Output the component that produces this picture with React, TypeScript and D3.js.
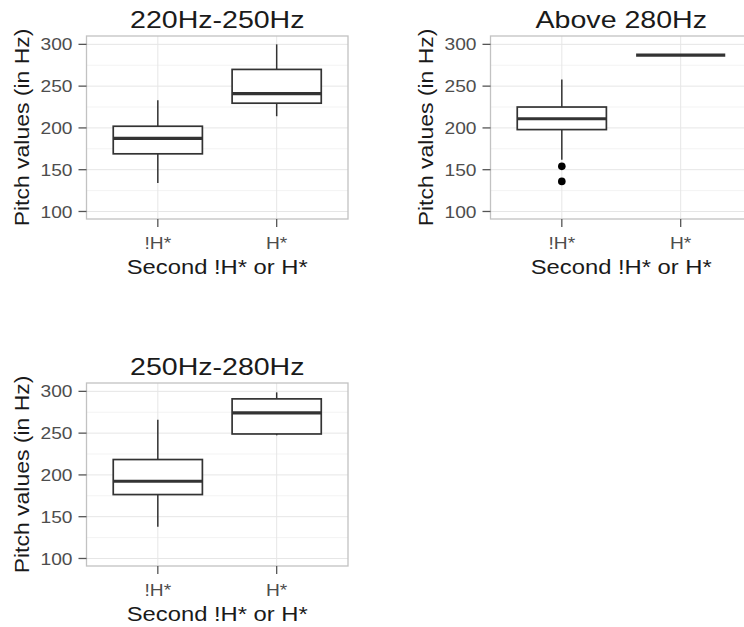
import React from 'react';
import * as d3 from 'd3';

const categories = ['!H*', 'H*'];
const panelTitles = ['220Hz-250Hz', 'Above 280Hz', '250Hz-280Hz'];
const yTicks = [100, 150, 200, 250, 300];
const yMinorTicks = [125, 175, 225, 275];
const xAxisTitle = 'Second !H* or H*';
const yAxisTitle = 'Pitch values (in Hz)';

// [lower whisker, q1, median, q3, upper whisker] per category
const boxes220to250 = [
  [134, 169, 187.6, 202, 233],
  [214, 229.6, 241, 270, 300],
];
const boxesAbove280 = [
  [162, 198, 211, 225, 258],
  [287, 287, 287, 287, 287],
];
const boxes250to280 = [
  [138, 176.5, 192.4, 218.4, 266],
  [247.4, 249, 274.2, 291, 298.8],
];
const outliers220to250: number[][] = [[], []];
const outliersAbove280: number[][] = [[154, 136], []];
const outliers250to280: number[][] = [[], []];

const W = 744;
const H = 627;
const PW = 261.5;
const PH = 183;
const FONT = 'Liberation Sans, Arial, Helvetica, sans-serif';

const panels = [
  { title: panelTitles[0], boxes: boxes220to250, outliers: outliers220to250, x0: 86.5, y0: 36 },
  { title: panelTitles[1], boxes: boxesAbove280, outliers: outliersAbove280, x0: 490.5, y0: 36 },
  { title: panelTitles[2], boxes: boxes250to280, outliers: outliers250to280, x0: 86.5, y0: 383 },
];

function SText(props: {
  x: number; y: number; size: number; sx: number; anchor: string;
  rotate?: number; fill: string; dy?: string; children: React.ReactNode;
}) {
  const { x, y, size, sx, anchor, rotate, fill, dy, children } = props;
  const t = `translate(${x},${y})${rotate ? ` rotate(${rotate})` : ''} scale(${sx},1)`;
  return (
    <text transform={t} fontSize={size} textAnchor={anchor as any} fill={fill} fontFamily={FONT} dy={dy}>
      {children}
    </text>
  );
}

function Panel({ p }: { p: typeof panels[number] }) {
  const x = d3.scalePoint<string>().domain(categories).range([p.x0, p.x0 + PW]).padding(0.6);
  const y = d3.scaleLinear().domain([91, 310]).range([p.y0 + PH, p.y0]);
  const step = x.step();
  const bw = step * 0.75;
  const x1 = p.x0 + PW;
  const y1 = p.y0 + PH;
  const cx = p.x0 + PW / 2;
  const cy = p.y0 + PH / 2;
  return (
    <g>
      <rect x={p.x0} y={p.y0} width={PW} height={PH} fill="#fff" />
      {yMinorTicks.map((t) => (
        <line key={'mn' + t} x1={p.x0} x2={x1} y1={y(t)} y2={y(t)} stroke="#F3F3F3" strokeWidth={1} />
      ))}
      {yTicks.map((t) => (
        <line key={'mj' + t} x1={p.x0} x2={x1} y1={y(t)} y2={y(t)} stroke="#E6E6E6" strokeWidth={1} />
      ))}
      {categories.map((c) => (
        <line key={'vg' + c} x1={x(c)!} x2={x(c)!} y1={p.y0} y2={y1} stroke="#E6E6E6" strokeWidth={1} />
      ))}
      {categories.map((c, i) => {
        const [lo, q1, med, q3, hi] = p.boxes[i];
        const xc = x(c)!;
        return (
          <g key={'b' + c}>
            <line x1={xc} x2={xc} y1={y(hi)} y2={y(q3)} stroke="#333" strokeWidth={1.5} />
            <line x1={xc} x2={xc} y1={y(q1)} y2={y(lo)} stroke="#333" strokeWidth={1.5} />
            <rect x={xc - bw / 2} y={y(q3)} width={bw} height={Math.max(0, y(q1) - y(q3))} fill="#fff" stroke="#333" strokeWidth={1.7} />
            <line x1={xc - bw / 2} x2={xc + bw / 2} y1={y(med)} y2={y(med)} stroke="#333" strokeWidth={3.2} />
            {p.outliers[i].map((o, j) => (
              <circle key={j} cx={xc} cy={y(o)} r={3.8} fill="#000" />
            ))}
          </g>
        );
      })}
      <rect x={p.x0} y={p.y0} width={PW} height={PH} fill="none" stroke="#C2C2C2" strokeWidth={1.3} />
      {yTicks.map((t) => (
        <g key={'yt' + t}>
          <line x1={p.x0 - 8} x2={p.x0} y1={y(t)} y2={y(t)} stroke="#555" strokeWidth={1.3} />
          <SText x={p.x0 - 14} y={y(t)} size={17} sx={1.13} anchor="end" fill="#4D4D4D" dy="0.36em">{t}</SText>
        </g>
      ))}
      {categories.map((c) => (
        <g key={'xt' + c}>
          <line x1={x(c)!} x2={x(c)!} y1={y1} y2={y1 + 8} stroke="#555" strokeWidth={1.3} />
          <SText x={x(c)!} y={y1 + 30} size={17} sx={1.13} anchor="middle" fill="#4D4D4D">{c}</SText>
        </g>
      ))}
      <SText x={cx} y={p.y0 - 8.5} size={24} sx={1.19} anchor="middle" fill="#1A1A1A">{p.title}</SText>
      <SText x={cx} y={y1 + 55} size={20.5} sx={1.16} anchor="middle" fill="#1A1A1A">{xAxisTitle}</SText>
      <SText x={p.x0 - 58} y={cy} size={20.5} sx={1.12} anchor="middle" rotate={-90} fill="#1A1A1A">{yAxisTitle}</SText>
    </g>
  );
}

export default function App() {
  return (
    <svg width={W} height={H} style={{ position: 'absolute', left: 0, top: 0, background: '#fff' }}>
      <rect width={W} height={H} fill="#fff" />
      {panels.map((p, i) => (
        <Panel key={i} p={p} />
      ))}
    </svg>
  );
}
